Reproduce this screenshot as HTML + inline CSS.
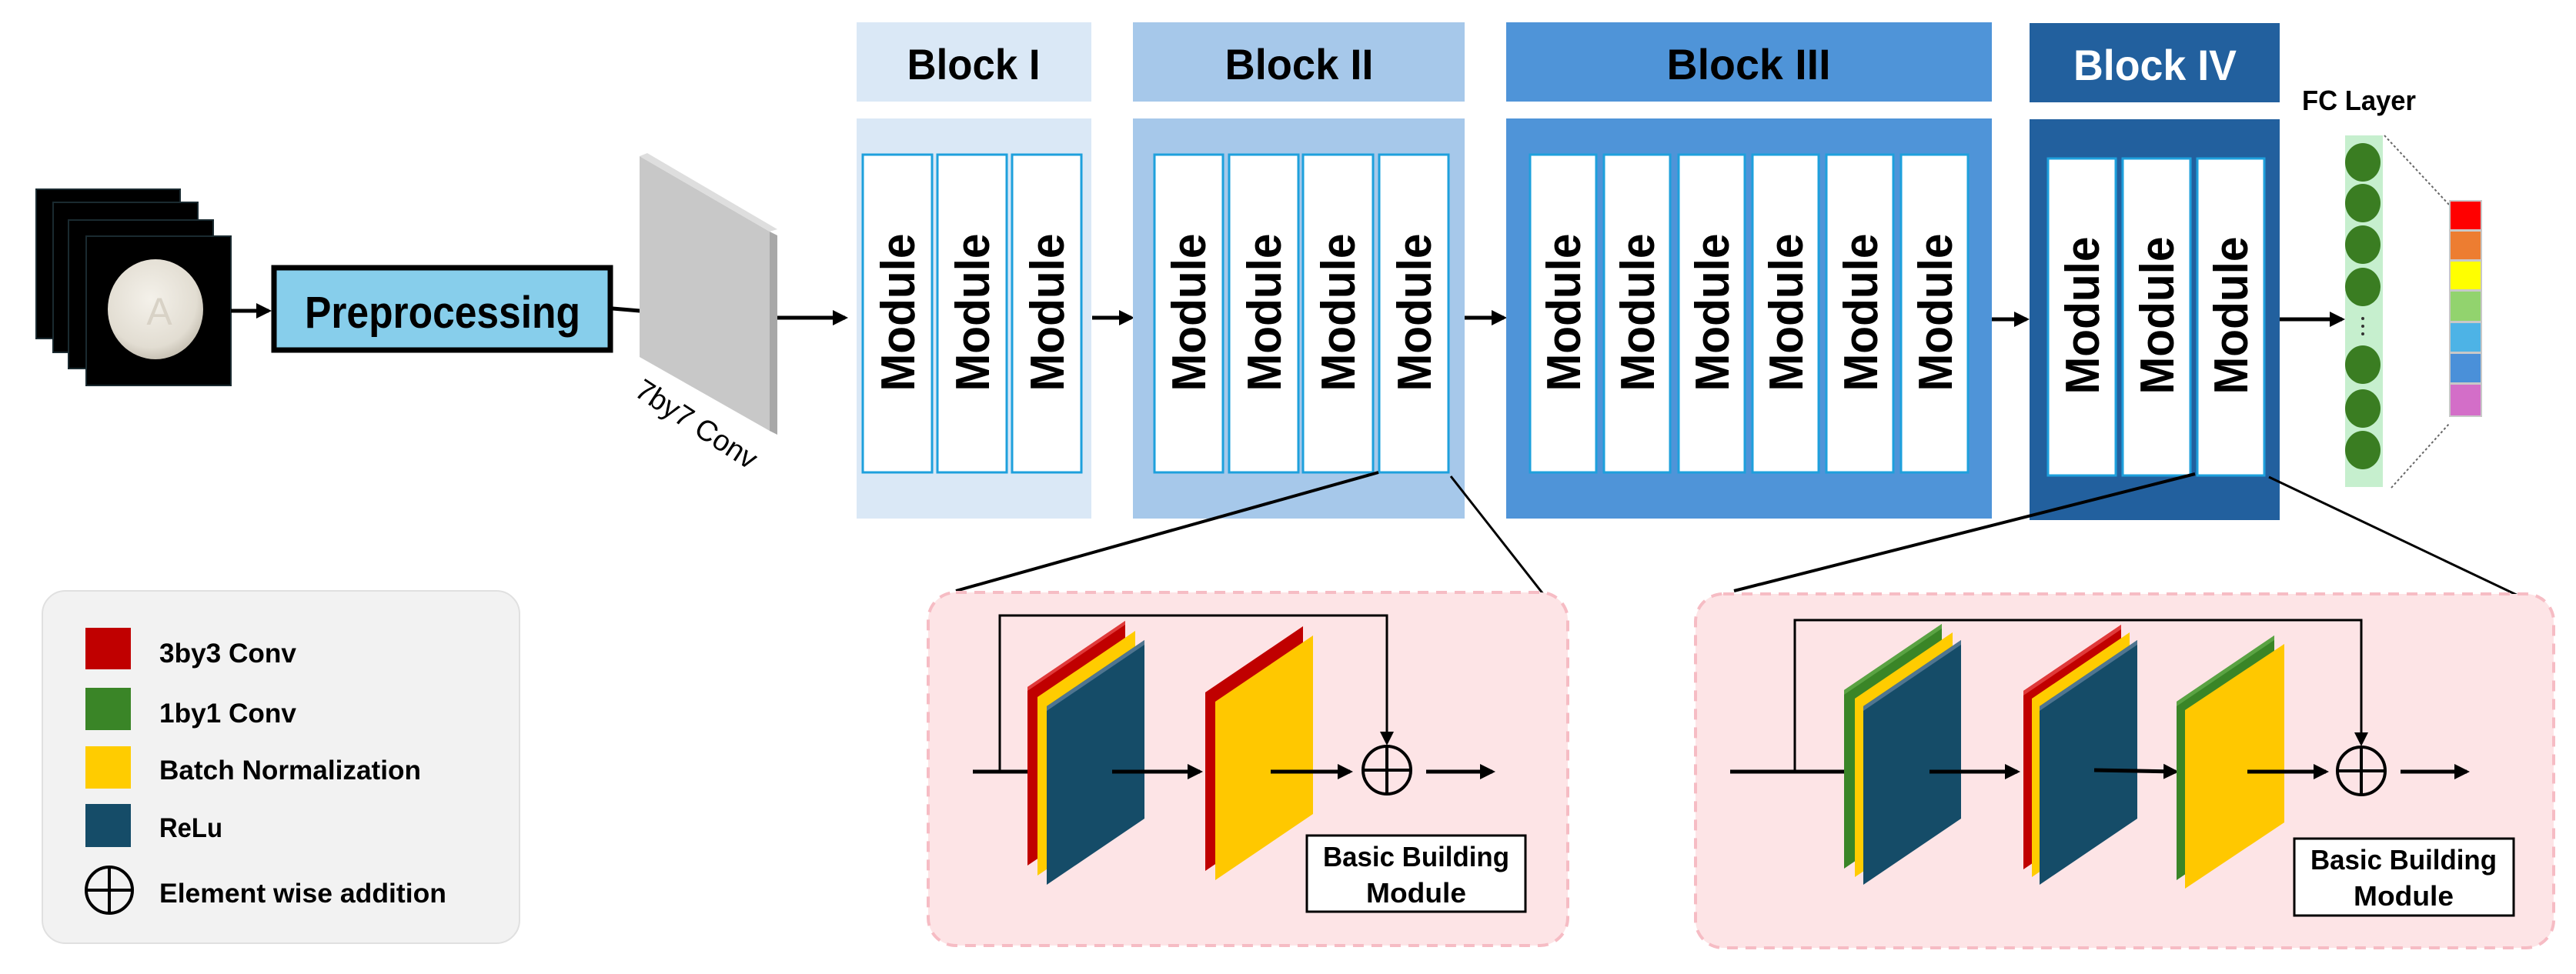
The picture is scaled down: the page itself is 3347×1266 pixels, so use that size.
<!DOCTYPE html>
<html><head><meta charset="utf-8"><style>
html,body{margin:0;padding:0;background:#fff;}
svg{display:block;}
text{font-family:"Liberation Sans",sans-serif;font-weight:bold;}
</style></head><body>
<svg width="3347" height="1266" viewBox="0 0 3347 1266" xmlns="http://www.w3.org/2000/svg">
<defs>
<marker id="ah" markerWidth="4" markerHeight="4" refX="3.2" refY="2" orient="auto" markerUnits="strokeWidth"><path d="M0,0 L4,2 L0,4 z" fill="#000"/></marker>
<marker id="ah2" markerWidth="6" markerHeight="6" refX="5" refY="3" orient="auto" markerUnits="strokeWidth"><path d="M0,0 L6,3 L0,6 z" fill="#000"/></marker>
<radialGradient id="pill" cx="45%" cy="40%" r="60%"><stop offset="0" stop-color="#f4f1ea"/><stop offset="0.8" stop-color="#e2ddd2"/><stop offset="1" stop-color="#c9c3b6"/></radialGradient>
</defs>

<!-- input image stack -->
<rect x="47" y="246" width="187" height="194" fill="#000" stroke="#1a2a30" stroke-width="2"/>
<rect x="69" y="263" width="188" height="195" fill="#000" stroke="#1a2a30" stroke-width="2"/>
<rect x="89" y="286" width="188" height="193" fill="#000" stroke="#1a2a30" stroke-width="2"/>
<rect x="112" y="307" width="188" height="194" fill="#000" stroke="#1a2a30" stroke-width="2"/>
<ellipse cx="202" cy="402" rx="62" ry="65" fill="url(#pill)"/>
<text x="207" y="422" font-size="50" fill="#d8d2c6" text-anchor="middle" style="font-weight:normal">A</text>

<!-- arrows top -->
<line x1="300" y1="404" x2="349" y2="404" stroke="#000" stroke-width="5" marker-end="url(#ah)"/>
<rect x="356" y="348" width="437" height="107" fill="#87ceeb" stroke="#000" stroke-width="7"/>
<text x="575" y="426" font-size="58" text-anchor="middle" textLength="358" lengthAdjust="spacingAndGlyphs">Preprocessing</text>
<line x1="796" y1="401" x2="890" y2="409" stroke="#000" stroke-width="5" marker-end="url(#ah)"/>

<!-- gray conv plate -->
<polygon points="831,203 1000,301 1000,560 831,464" fill="#c8c8c8"/>
<polygon points="1000,301 1010,306 1010,565 1000,560" fill="#a8a8a8"/>
<polygon points="831,203 841,199 1010,298 1000,301" fill="#dedede"/>
<text transform="translate(898,562) rotate(33)" font-size="38" text-anchor="middle" style="font-weight:normal" textLength="180" lengthAdjust="spacingAndGlyphs">7by7 Conv</text>
<line x1="1010" y1="413" x2="1098" y2="413" stroke="#000" stroke-width="5" marker-end="url(#ah)"/>

<!-- Block I -->
<rect x="1113" y="29" width="305" height="103" fill="#dae8f6"/>
<text x="1265" y="103" font-size="56" text-anchor="middle" textLength="173" lengthAdjust="spacingAndGlyphs">Block I</text>
<rect x="1113" y="154" width="305" height="520" fill="#dae8f6"/>
<g fill="#fff" stroke="#1ea0dc" stroke-width="3">
<rect x="1121" y="201" width="90" height="413"/><rect x="1218" y="201" width="90" height="413"/><rect x="1315" y="201" width="90" height="413"/>
</g>
<line x1="1419" y1="413" x2="1470" y2="413" stroke="#000" stroke-width="5" marker-end="url(#ah)"/>

<!-- Block II -->
<rect x="1472" y="29" width="431" height="103" fill="#a6c8ea"/>
<text x="1688" y="103" font-size="56" text-anchor="middle" textLength="193" lengthAdjust="spacingAndGlyphs">Block II</text>
<rect x="1472" y="154" width="431" height="520" fill="#a6c8ea"/>
<g fill="#fff" stroke="#1ea0dc" stroke-width="3">
<rect x="1500" y="201" width="89" height="413"/><rect x="1597" y="201" width="90" height="413"/><rect x="1693" y="201" width="91" height="413"/><rect x="1792" y="201" width="90" height="413"/>
</g>
<line x1="1903" y1="413" x2="1954" y2="413" stroke="#000" stroke-width="5" marker-end="url(#ah)"/>

<!-- Block III -->
<rect x="1957" y="29" width="631" height="103" fill="#4f94d8"/>
<text x="2272" y="103" font-size="56" text-anchor="middle" textLength="213" lengthAdjust="spacingAndGlyphs">Block III</text>
<rect x="1957" y="154" width="631" height="520" fill="#4f94d8"/>
<g fill="#fff" stroke="#1ea0dc" stroke-width="3">
<rect x="1988" y="201" width="86" height="413"/><rect x="2084" y="201" width="86" height="413"/><rect x="2181" y="201" width="86" height="413"/>
<rect x="2277" y="201" width="86" height="413"/><rect x="2373" y="201" width="87" height="413"/><rect x="2470" y="201" width="87" height="413"/>
</g>
<line x1="2588" y1="415" x2="2633" y2="415" stroke="#000" stroke-width="5" marker-end="url(#ah)"/>

<!-- Block IV -->
<rect x="2637" y="30" width="325" height="103" fill="#22609e"/>
<text x="2800" y="104" font-size="56" fill="#fff" text-anchor="middle" textLength="212" lengthAdjust="spacingAndGlyphs">Block IV</text>
<rect x="2637" y="155" width="325" height="521" fill="#22609e"/>
<g fill="#fff" stroke="#1ea0dc" stroke-width="3">
<rect x="2661" y="206" width="88" height="412"/><rect x="2758" y="206" width="88" height="412"/><rect x="2855" y="206" width="87" height="412"/>
</g>
<line x1="2962" y1="415" x2="3043" y2="415" stroke="#000" stroke-width="5" marker-end="url(#ah)"/>

<!-- Module labels -->
<g font-size="62" text-anchor="middle">
<text transform="translate(1188,406) rotate(-90)" textLength="205" lengthAdjust="spacingAndGlyphs">Module</text>
<text transform="translate(1285,406) rotate(-90)" textLength="205" lengthAdjust="spacingAndGlyphs">Module</text>
<text transform="translate(1382,406) rotate(-90)" textLength="205" lengthAdjust="spacingAndGlyphs">Module</text>
<text transform="translate(1566,406) rotate(-90)" textLength="205" lengthAdjust="spacingAndGlyphs">Module</text>
<text transform="translate(1664,406) rotate(-90)" textLength="205" lengthAdjust="spacingAndGlyphs">Module</text>
<text transform="translate(1760,406) rotate(-90)" textLength="205" lengthAdjust="spacingAndGlyphs">Module</text>
<text transform="translate(1859,406) rotate(-90)" textLength="205" lengthAdjust="spacingAndGlyphs">Module</text>
<text transform="translate(2053,406) rotate(-90)" textLength="205" lengthAdjust="spacingAndGlyphs">Module</text>
<text transform="translate(2149,406) rotate(-90)" textLength="205" lengthAdjust="spacingAndGlyphs">Module</text>
<text transform="translate(2246,406) rotate(-90)" textLength="205" lengthAdjust="spacingAndGlyphs">Module</text>
<text transform="translate(2342,406) rotate(-90)" textLength="205" lengthAdjust="spacingAndGlyphs">Module</text>
<text transform="translate(2439,406) rotate(-90)" textLength="205" lengthAdjust="spacingAndGlyphs">Module</text>
<text transform="translate(2536,406) rotate(-90)" textLength="205" lengthAdjust="spacingAndGlyphs">Module</text>
<text transform="translate(2727,410) rotate(-90)" textLength="205" lengthAdjust="spacingAndGlyphs">Module</text>
<text transform="translate(2824,410) rotate(-90)" textLength="205" lengthAdjust="spacingAndGlyphs">Module</text>
<text transform="translate(2920,410) rotate(-90)" textLength="205" lengthAdjust="spacingAndGlyphs">Module</text>
</g>

<!-- FC layer -->
<text x="2991" y="143" font-size="36" textLength="148" lengthAdjust="spacingAndGlyphs">FC Layer</text>
<rect x="3047" y="176" width="49" height="457" fill="#c6efce"/>
<g fill="#3a7d22">
<ellipse cx="3070" cy="211" rx="23" ry="25"/><ellipse cx="3070" cy="264" rx="23" ry="25"/><ellipse cx="3070" cy="318" rx="23" ry="25"/><ellipse cx="3070" cy="373" rx="23" ry="25"/>
<ellipse cx="3070" cy="474" rx="23" ry="25"/><ellipse cx="3070" cy="531" rx="23" ry="25"/><ellipse cx="3070" cy="585" rx="23" ry="25"/>
</g>
<g fill="#333"><circle cx="3070" cy="414" r="2"/><circle cx="3070" cy="424" r="2"/><circle cx="3070" cy="434" r="2"/></g>
<line x1="3098" y1="176" x2="3182" y2="266" stroke="#666" stroke-width="2" stroke-dasharray="3,3"/>
<line x1="3107" y1="634" x2="3182" y2="551" stroke="#666" stroke-width="2" stroke-dasharray="3,3"/>
<rect x="3182" y="260" width="43" height="282" fill="#c8c8c8"/>
<rect x="3184" y="262" width="39" height="36" fill="#ff0000"/>
<rect x="3184" y="301" width="39" height="36" fill="#ed7d31"/>
<rect x="3184" y="340" width="39" height="36" fill="#ffff00"/>
<rect x="3184" y="379" width="39" height="38" fill="#92d36e"/>
<rect x="3184" y="420" width="39" height="37" fill="#4db3e6"/>
<rect x="3184" y="460" width="39" height="37" fill="#4a90d9"/>
<rect x="3184" y="500" width="39" height="40" fill="#d36ec8"/>

<!-- connector lines -->
<line x1="1791" y1="614" x2="1242" y2="768" stroke="#000" stroke-width="4"/>
<line x1="1885" y1="619" x2="2005" y2="772" stroke="#000" stroke-width="3"/>
<line x1="2852" y1="616" x2="2253" y2="768" stroke="#000" stroke-width="4"/>
<line x1="2948" y1="620" x2="3280" y2="778" stroke="#000" stroke-width="3"/>

<!-- Legend -->
<rect x="55" y="768" width="620" height="458" rx="30" fill="#f2f2f2" stroke="#e0e0e0" stroke-width="2"/>
<rect x="111" y="816" width="59" height="54" fill="#c00000"/>
<rect x="111" y="894" width="59" height="55" fill="#3a8527"/>
<rect x="111" y="970" width="59" height="55" fill="#ffcc00"/>
<rect x="111" y="1045" width="59" height="56" fill="#154c68"/>
<circle cx="142" cy="1157" r="30" fill="none" stroke="#000" stroke-width="4"/>
<line x1="112" y1="1157" x2="172" y2="1157" stroke="#000" stroke-width="4"/>
<line x1="142" y1="1127" x2="142" y2="1187" stroke="#000" stroke-width="4"/>
<g font-size="35">
<text x="207" y="861" textLength="178" lengthAdjust="spacingAndGlyphs">3by3 Conv</text>
<text x="207" y="939" textLength="178" lengthAdjust="spacingAndGlyphs">1by1 Conv</text>
<text x="207" y="1013" textLength="340" lengthAdjust="spacingAndGlyphs">Batch Normalization</text>
<text x="207" y="1088" textLength="82" lengthAdjust="spacingAndGlyphs">ReLu</text>
<text x="207" y="1173" textLength="373" lengthAdjust="spacingAndGlyphs">Element wise addition</text>
</g>

<!-- Module detail 1 -->
<rect x="1206" y="770" width="831" height="459" rx="36" fill="#fde4e6" stroke="#f6bcc4" stroke-width="4" stroke-dasharray="14,10"/>
<polyline points="1299,1003 1299,800 1802,800 1802,966" fill="none" stroke="#000" stroke-width="3" marker-end="url(#ah2)"/>
<line x1="1264" y1="1003" x2="1338" y2="1003" stroke="#000" stroke-width="5"/>
<polygon points="1335,893 1462,807 1462,1039 1335,1125" fill="#c00000"/>
<polygon points="1335,893 1462,807 1462,812 1335,898" fill="#e03a3a"/>
<polygon points="1348,906 1475,820 1475,1052 1348,1138" fill="#ffcc00"/>
<polygon points="1360,918 1487,832 1487,1064 1360,1150" fill="#154c68"/>
<polygon points="1360,918 1487,832 1487,838 1360,924" fill="#4f7590"/>
<line x1="1445" y1="1003" x2="1559" y2="1003" stroke="#000" stroke-width="5" marker-end="url(#ah)"/>
<polygon points="1566,900 1693,814 1693,1046 1566,1132" fill="#c00000"/>
<polygon points="1579,912 1706,826 1706,1058 1579,1144" fill="#ffc800"/>
<line x1="1651" y1="1003" x2="1754" y2="1003" stroke="#000" stroke-width="5" marker-end="url(#ah)"/>
<circle cx="1802" cy="1001" r="31" fill="none" stroke="#000" stroke-width="4"/>
<line x1="1771" y1="1001" x2="1833" y2="1001" stroke="#000" stroke-width="4"/>
<line x1="1802" y1="970" x2="1802" y2="1032" stroke="#000" stroke-width="4"/>
<line x1="1853" y1="1003" x2="1939" y2="1003" stroke="#000" stroke-width="5" marker-end="url(#ah)"/>
<rect x="1698" y="1086" width="284" height="99" fill="#fff" stroke="#000" stroke-width="3"/>
<g font-size="36" text-anchor="middle" style="font-weight:normal">
<text x="1840" y="1126" textLength="242" lengthAdjust="spacingAndGlyphs" style="font-weight:bold">Basic Building</text>
<text x="1840" y="1173" textLength="130" lengthAdjust="spacingAndGlyphs" style="font-weight:bold">Module</text>
</g>

<!-- Module detail 2 -->
<rect x="2203" y="772" width="1115" height="460" rx="36" fill="#fde4e6" stroke="#f6bcc4" stroke-width="4" stroke-dasharray="14,10"/>
<polyline points="2332,1003 2332,806 3068,806 3068,967" fill="none" stroke="#000" stroke-width="3" marker-end="url(#ah2)"/>
<line x1="2248" y1="1003" x2="2400" y2="1003" stroke="#000" stroke-width="5"/>
<polygon points="2396,897 2523,811 2523,1043 2396,1129" fill="#3a8527"/>
<polygon points="2396,897 2523,811 2523,817 2396,903" fill="#5aa343"/>
<polygon points="2410,908 2537,822 2537,1054 2410,1140" fill="#ffcc00"/>
<polygon points="2421,918 2548,832 2548,1064 2421,1150" fill="#154c68"/>
<polygon points="2421,918 2548,832 2548,838 2421,924" fill="#4f7590"/>
<line x1="2507" y1="1003" x2="2621" y2="1003" stroke="#000" stroke-width="5" marker-end="url(#ah)"/>
<polygon points="2629,898 2756,812 2756,1044 2629,1130" fill="#c00000"/>
<polygon points="2629,898 2756,812 2756,818 2629,904" fill="#e03a3a"/>
<polygon points="2640,908 2767,822 2767,1054 2640,1140" fill="#ffcc00"/>
<polygon points="2650,918 2777,832 2777,1064 2650,1150" fill="#154c68"/>
<polygon points="2650,918 2777,832 2777,838 2650,924" fill="#4f7590"/>
<line x1="2721" y1="1001" x2="2827" y2="1003" stroke="#000" stroke-width="5" marker-end="url(#ah)"/>
<polygon points="2828,912 2955,826 2955,1058 2828,1144" fill="#3a8527"/>
<polygon points="2828,912 2955,826 2955,832 2828,918" fill="#5aa343"/>
<polygon points="2839,923 2968,837 2968,1069 2839,1155" fill="#ffc800"/>
<line x1="2920" y1="1003" x2="3022" y2="1003" stroke="#000" stroke-width="5" marker-end="url(#ah)"/>
<circle cx="3068" cy="1002" r="31" fill="none" stroke="#000" stroke-width="4"/>
<line x1="3037" y1="1002" x2="3099" y2="1002" stroke="#000" stroke-width="4"/>
<line x1="3068" y1="971" x2="3068" y2="1033" stroke="#000" stroke-width="4"/>
<line x1="3119" y1="1003" x2="3205" y2="1003" stroke="#000" stroke-width="5" marker-end="url(#ah)"/>
<rect x="2981" y="1090" width="285" height="100" fill="#fff" stroke="#000" stroke-width="3"/>
<g font-size="36" text-anchor="middle">
<text x="3123" y="1130" textLength="242" lengthAdjust="spacingAndGlyphs">Basic Building</text>
<text x="3123" y="1177" textLength="130" lengthAdjust="spacingAndGlyphs">Module</text>
</g>
</svg>
</body></html>
